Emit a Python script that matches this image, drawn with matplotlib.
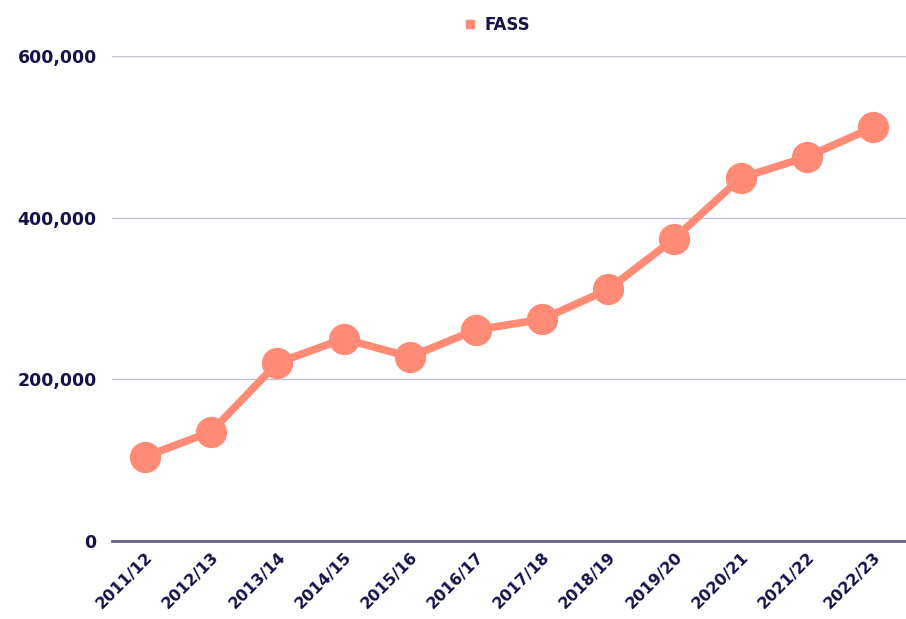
import matplotlib.pyplot as plt
from matplotlib.lines import Line2D
from matplotlib.ticker import FuncFormatter

years = ["2011/12", "2012/13", "2013/14", "2014/15", "2015/16", "2016/17",
         "2017/18", "2018/19", "2019/20", "2020/21", "2021/22", "2022/23"]
fass = [104000, 135000, 220000, 250000, 227500, 261000,
        274000, 311000, 374000, 449000, 475000, 511500]
y_ticks = [0, 200000, 400000, 600000]

NAVY = "#14124a"
SALMON = "#ff8a75"

plt.rcParams['font.family'] = ['DejaVu Sans']

fig = plt.figure(figsize=(9.06, 6.19), dpi=100)
ax = fig.add_axes([112 / 906, 1 - 540.7 / 619, 1 - 112 / 906, (540.7 - 56) / 619])

x = list(range(len(years)))
ax.plot(x, fass, color=SALMON, linewidth=5.5, marker='o', markersize=21.5,
        solid_capstyle='round', zorder=3)

ax.set_xlim(-0.5, len(years) - 0.5)
ax.set_ylim(0, 600000)
ax.set_yticks(y_ticks)
ax.yaxis.set_major_formatter(FuncFormatter(lambda v, p: f"{int(v):,}"))
ax.set_xticks(x)
ax.set_xticklabels(years, rotation=45, ha='right', rotation_mode='anchor')

for lbl in ax.get_yticklabels():
    lbl.set_fontweight('bold')
    lbl.set_color(NAVY)
    lbl.set_fontsize(12.5)
for lbl in ax.get_xticklabels():
    lbl.set_fontweight('bold')
    lbl.set_color(NAVY)
    lbl.set_fontsize(11.5)

ax.tick_params(axis='both', length=0)
ax.tick_params(axis='y', pad=11)
ax.tick_params(axis='x', pad=6)

ax.grid(axis='y', color='#c3bfd8', linewidth=1)
ax.set_axisbelow(True)
for side in ['top', 'right', 'left']:
    ax.spines[side].set_visible(False)
ax.spines['bottom'].set_color('#66638a')
ax.spines['bottom'].set_linewidth(2)

handle = Line2D([], [], color=SALMON, marker='s', linestyle='none', markersize=6)
fig.legend([handle], ["FASS"], loc='center', bbox_to_anchor=(496 / 906, 1 - 25 / 619),
           frameon=False, handletextpad=0.4, handlelength=1,
           prop={'weight': 'bold', 'size': 12})
fig.legends[0].get_texts()[0].set_color(NAVY)

fig.savefig("out.png", dpi=100)
